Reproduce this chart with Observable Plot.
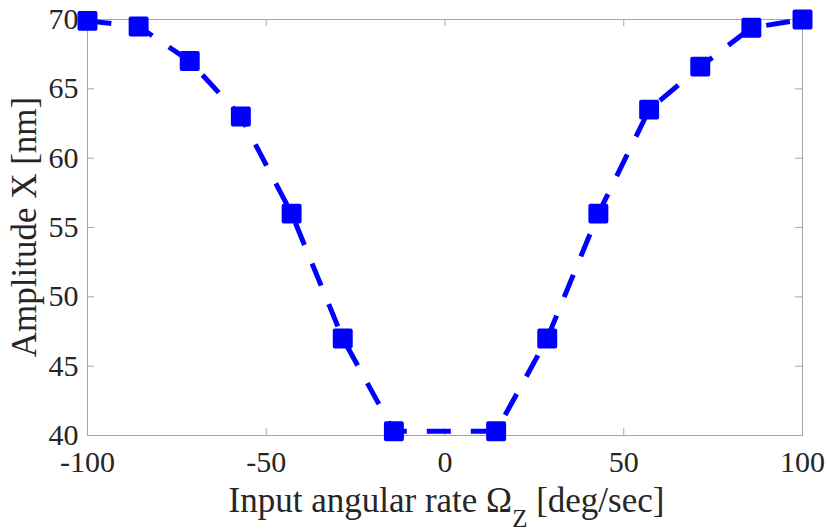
<!DOCTYPE html>
<html>
<head>
<meta charset="utf-8">
<script src="https://cdn.jsdelivr.net/npm/d3@7"></script>
<script src="https://cdn.jsdelivr.net/npm/@observablehq/plot@0.6"></script>
<style>
  html, body { margin: 0; padding: 0; background: #ffffff; }
  #chart svg { display: block; }
  #chart svg, #chart svg text, #chart svg tspan {
    font-family: "Liberation Serif", "DejaVu Serif", serif !important;
  }
</style>
</head>
<body>
<div id="chart"></div>
<script>
// Input angular rate (deg/sec) and the measured drive amplitude (nm)
const rates = [-100, -85.7, -71.4, -57.1, -42.9, -28.6, -14.3, 14.3, 28.6, 42.9, 57.1, 71.4, 85.7, 100];
const amplitudes = [69.9, 69.5, 67.0, 63.0, 56.0, 47.0, 40.3, 40.3, 47.0, 56.0, 63.5, 66.6, 69.4, 70.0];

const xTicks = [-100, -50, 0, 50, 100];
const yTicks = [40, 45, 50, 55, 60, 65, 70];

const xLabel = ["Input angular rate Ω", "Z", " [deg/sec]"];
const yLabel = "Amplitude X [nm]";

const data = rates.map((r, i) => ({rate: r, amp: amplitudes[i]}));

const W = 828, H = 529;
const mL = 87, mR = 26, mT = 19, mB = 94;
const frameW = W - mL - mR, frameH = H - mT - mB;
const tickLen = 7;
const axisGray = "#a6a6a6";
const textColor = "#262626";
const blue = "#0000ff";

// plain hyphen-minus on the tick labels
const fmt = d => String(d);

const chart = Plot.plot({
  width: W,
  height: H,
  marginLeft: mL,
  marginRight: mR,
  marginTop: mT,
  marginBottom: mB,
  style: {fontSize: "30px", color: textColor, background: "#ffffff", overflow: "visible"},
  x: {domain: [-100, 100]},
  y: {domain: [40, 70]},
  marks: [
    Plot.frame({stroke: axisGray, strokeWidth: 1}),
    // inward ticks on all four sides of the box
    Plot.ruleX(xTicks, {x: d => d, insetTop: frameH - tickLen, stroke: axisGray}),
    Plot.ruleX(xTicks, {x: d => d, insetBottom: frameH - tickLen, stroke: axisGray}),
    Plot.ruleY(yTicks, {y: d => d, insetRight: frameW - tickLen, stroke: axisGray}),
    Plot.ruleY(yTicks, {y: d => d, insetLeft: frameW - tickLen, stroke: axisGray}),
    Plot.axisX(xTicks, {anchor: "bottom", tickSize: 0, tickPadding: 15, label: null, tickFormat: fmt, fontSize: 30}),
    Plot.axisY(yTicks, {anchor: "left", tickSize: 0, tickPadding: 9, label: null, tickFormat: fmt, fontSize: 30}),
    Plot.line(data, {x: "rate", y: "amp", stroke: blue, strokeWidth: 5, strokeDasharray: "24,20", strokeLinecap: "butt"}),
    Plot.dot(data, {x: "rate", y: "amp", symbol: "square", r: 9, fill: blue, stroke: blue, strokeWidth: 4, strokeLinejoin: "round"})
  ]
});

const svg = d3.select(chart);

// x-axis title with subscript
const xt = svg.append("text")
  .attr("x", mL + frameW / 2 + 2)
  .attr("y", 512)
  .attr("text-anchor", "middle")
  .attr("fill", textColor)
  .attr("font-size", 35);
xt.append("tspan").text(xLabel[0]);
xt.append("tspan").attr("dy", 15).attr("font-size", 25).text(xLabel[1]);
xt.append("tspan").attr("dy", -15).text(xLabel[2]);

// y-axis title, rotated
svg.append("text")
  .attr("transform", `translate(36,${mT + frameH / 2}) rotate(-90)`)
  .attr("text-anchor", "middle")
  .attr("fill", textColor)
  .attr("font-size", 35)
  .text(yLabel);

document.getElementById("chart").appendChild(chart);
</script>
</body>
</html>
